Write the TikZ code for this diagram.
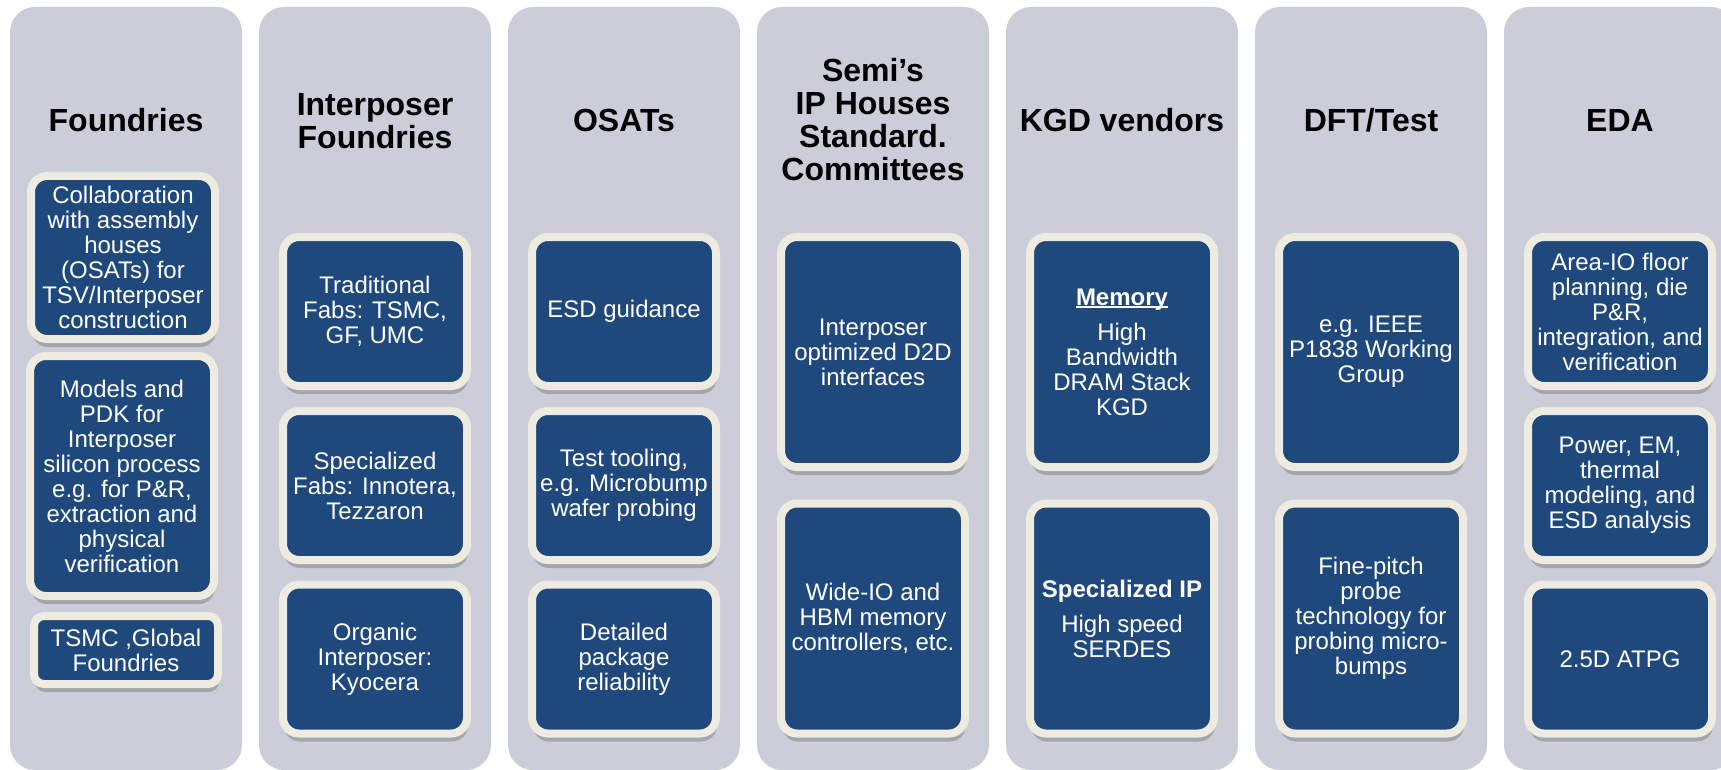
\documentclass[tikz,border=0pt]{standalone}
\usepackage{fontspec}
\setmainfont{Liberation Sans}
\usetikzlibrary{shadows}
\definecolor{colbg}{RGB}{203,206,216}
\definecolor{framecol}{RGB}{238,236,225}
\definecolor{boxblue}{RGB}{31,73,125}
\newcommand\myulbox[1]{\setbox0\hbox{#1}\rlap{\rule[-3pt]{\wd0}{2pt}}\box0}
\begin{document}
\begin{tikzpicture}[x=1pt,y=-1pt,
  column/.style={fill=colbg, rounded corners=25pt, minimum width=232pt, minimum height=763pt, inner sep=0pt, outer sep=0pt},
  title/.style={font=\bfseries\fontsize{32}{33}\selectfont, align=center, text=black, inner sep=0pt},
  item/.style={draw=framecol, line width=8pt, fill=boxblue, rounded corners=16pt, text=white, align=center,
    font=\fontsize{24}{25}\selectfont, inner sep=0pt, outer sep=0pt, minimum width=184pt,
    drop shadow={shadow xshift=1pt, shadow yshift=-8pt, opacity=0.3, fill=black!70}},
  tall/.style={item, minimum height=149pt},
  taller/.style={item, minimum height=230pt},
]
\useasboundingbox (0,0) rectangle (1721,770);
\fill[white] (0,0) rectangle (1721,770);
\clip (0,0) rectangle (1721,770);

% columns
\node[column] (c1) at (126,388.5) {};
\node[column] (c2) at (375,388.5) {};
\node[column] (c3) at (624,388.5) {};
\node[column] (c4) at (873,388.5) {};
\node[column] (c5) at (1122,388.5) {};
\node[column] (c6) at (1371,388.5) {};
\node[column] (c7) at (1620,388.5) {};

% titles
\node[title] (t1) at (126,120) {Foundries};
\node[title] (t2) at (375,121) {Interposer\\Foundries};
\node[title] (t3) at (624,120) {OSATs};
\node[title] (t4) at (873,120) {Semi’s\\IP Houses\\Standard.\\Committees};
\node[title] (t5) at (1122,120) {KGD vendors};
\node[title] (t6) at (1371,120) {DFT/Test};
\node[title] (t7) at (1620,120) {EDA};

% Foundries
\node[item, minimum height=163pt] (f1) at (123,257.5) {Collaboration\\with assembly\\houses\\(OSATs) for\\TSV/Interposer\\construction};
\node[item, minimum height=240pt] (f2) at (122,476) {Models and\\PDK for\\Interposer\\silicon process\\e.g. for P\&R,\\extraction and\\physical\\verification};
\node[item, minimum height=68pt, rounded corners=10pt] (f3) at (126,650) {TSMC ,Global\\Foundries};

% Interposer Foundries
\node[tall] (i1) at (375,311.5) {Traditional\\Fabs: TSMC,\\GF, UMC};
\node[tall] (i2) at (375,485.5) {Specialized\\Fabs: Innotera,\\Tezzaron};
\node[tall] (i3) at (375,659) {Organic\\Interposer:\\Kyocera};

% OSATs
\node[tall] (o1) at (624,311.5) {ESD guidance};
\node[tall] (o2) at (624,485.5) {Test tooling,\\e.g. Microbump\\wafer probing};
\node[tall] (o3) at (624,659) {Detailed\\package\\reliability};

% Semi's
\node[taller] (s1) at (873,352) {Interposer\\optimized D2D\\interfaces};
\node[taller] (s2) at (873,618.5) {Wide-IO and\\HBM memory\\controllers, etc.};

% KGD vendors
\node[taller] (k1) at (1122,352) {\myulbox{\textbf{Memory}}\\[10pt]High\\Bandwidth\\DRAM Stack\\KGD};
\node[taller] (k2) at (1122,618.5) {\textbf{Specialized IP}\\[10pt]High speed\\SERDES};

% DFT/Test
\node[taller] (d1) at (1371,352) {e.g. IEEE\\P1838 Working\\Group};
\node[taller] (d2) at (1371,618.5) {Fine-pitch\\probe\\technology for\\probing micro-\\bumps};

% EDA
\node[tall] (e1) at (1620,311.5) {Area-IO floor\\planning, die\\P\&R,\\integration, and\\verification};
\node[tall] (e2) at (1620,485.5) {Power, EM,\\thermal\\modeling, and\\ESD analysis};
\node[tall] (e3) at (1620,659) {2.5D ATPG};
\end{tikzpicture}
\end{document}
